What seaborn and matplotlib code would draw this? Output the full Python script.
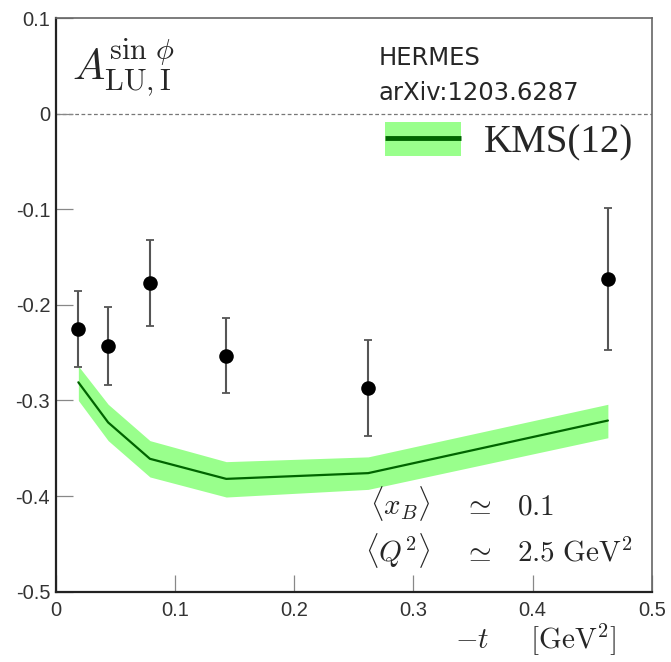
import matplotlib
matplotlib.use("Agg")
import matplotlib.pyplot as plt
import seaborn as sns
import pandas as pd
from matplotlib.patches import Patch
from matplotlib.lines import Line2D
from matplotlib.legend_handler import HandlerTuple

# HERMES beam-spin asymmetry, interference term
t_data = [0.019, 0.044, 0.079, 0.143, 0.262, 0.463]
asym = [-0.225, -0.243, -0.177, -0.253, -0.287, -0.173]
asym_err = [0.040, 0.041, 0.045, 0.039, 0.050, 0.074]

# KMS(12) model curve with its uncertainty band
t_model = [0.019, 0.044, 0.079, 0.143, 0.262, 0.463]
model = [-0.281, -0.323, -0.361, -0.382, -0.376, -0.321]
model_lo = [-0.300, -0.342, -0.380, -0.401, -0.393, -0.339]
model_hi = [-0.264, -0.304, -0.342, -0.364, -0.359, -0.304]

x_ticks = [0, 0.1, 0.2, 0.3, 0.4, 0.5]
y_ticks = [-0.5, -0.4, -0.3, -0.2, -0.1, 0, 0.1]
x_ticklabels = ["0", "0.1", "0.2", "0.3", "0.4", "0.5"]
y_ticklabels = ["-0.5", "-0.4", "-0.3", "-0.2", "-0.1", "0", "0.1"]

sns.set_theme(style="ticks")
plt.rcParams["font.family"] = ["Liberation Sans", "DejaVu Sans"]
plt.rcParams["mathtext.fontset"] = "cm"

data = pd.DataFrame({"t": t_data, "A": asym, "err": asym_err})
curve = pd.DataFrame({"t": t_model, "A": model, "lo": model_lo, "hi": model_hi})

fig = plt.figure(figsize=(6.71, 6.62), dpi=100)
ax = fig.add_axes([0.083, 0.1062, 0.8887, 0.8666])

band_color = "#99ff8c"
line_color = "#006400"

ax.fill_between(curve["t"], curve["lo"], curve["hi"], color=band_color, lw=0, zorder=1)
sns.lineplot(data=curve, x="t", y="A", ax=ax, color=line_color, lw=1.6, zorder=2)

ax.axhline(0, color="#777777", lw=0.9, ls=(0, (3, 2)), zorder=0)

ax.errorbar(data["t"], data["A"], yerr=data["err"], fmt="none", ecolor="#555555",
            elinewidth=1.5, capsize=3, capthick=1.3, zorder=3)
sns.scatterplot(data=data, x="t", y="A", ax=ax, color="black", s=110,
                edgecolor="black", linewidth=0, zorder=4)

ax.set_xlim(0, 0.5)
ax.set_ylim(-0.5, 0.1)
ax.set_xticks(x_ticks)
ax.set_xticklabels(x_ticklabels)
ax.set_yticks(y_ticks)
ax.set_yticklabels(y_ticklabels)
ax.set_xlabel("")
ax.set_ylabel("")
ax.tick_params(direction="in", length=12, width=0.9, color="#888888",
               labelsize=14.5, labelcolor="#333333", top=False, right=False)
ax.tick_params(axis="x", pad=7)
ax.tick_params(axis="y", pad=4)

for side in ("left", "bottom"):
    ax.spines[side].set_color("#222222")
    ax.spines[side].set_linewidth(1.6)
for side in ("top", "right"):
    ax.spines[side].set_visible(True)
    ax.spines[side].set_color("#666666")
    ax.spines[side].set_linewidth(1.2)

# observable name
ax.text(0.028, 0.894, r"$A^{\sin\,\phi}_{\mathrm{LU,I}}$", transform=ax.transAxes,
        fontsize=31, va="baseline", ha="left")

# experiment reference
ax.text(0.542, 0.918, "HERMES", transform=ax.transAxes, fontsize=17.5,
        va="baseline", ha="left", family=["DejaVu Sans"])
ax.text(0.542, 0.857, "arXiv:1203.6287", transform=ax.transAxes, fontsize=17.5,
        va="baseline", ha="left", family=["DejaVu Sans"])

# legend: band with the central line drawn over it
handle = (Patch(facecolor=band_color, edgecolor="none"),
          Line2D([], [], color=line_color, lw=3.5, solid_capstyle="butt"))
ax.legend([handle], ["KMS(12)"], handler_map={tuple: HandlerTuple(ndivide=1, pad=0)},
          loc="upper left", bbox_to_anchor=(0.526, 0.845), frameon=False,
          prop={"family": "Liberation Serif", "size": 28},
          handlelength=1.95, handleheight=0.95, handletextpad=0.6, borderaxespad=0)

# kinematics
rows = [(r"$\langle x_B\rangle$", r"$0.1$", 0.1354),
        (r"$\langle Q^2\rangle$", r"$2.5\ \mathrm{GeV}^2$", 0.0535)]
for lhs, rhs, yy in rows:
    ax.text(0.628, yy, lhs, transform=ax.transAxes, fontsize=21, ha="right", va="baseline")
    ax.text(0.706, yy, r"$\simeq$", transform=ax.transAxes, fontsize=21, ha="center", va="baseline")
    ax.text(0.774, yy, rhs, transform=ax.transAxes, fontsize=21, ha="left", va="baseline")

# x-axis title
fig.text(0.9195, 0.021, r"$-t\quad\ \ [\mathrm{GeV}^2]$", fontsize=21, ha="right", va="baseline")

fig.savefig("out.png", dpi=100)
